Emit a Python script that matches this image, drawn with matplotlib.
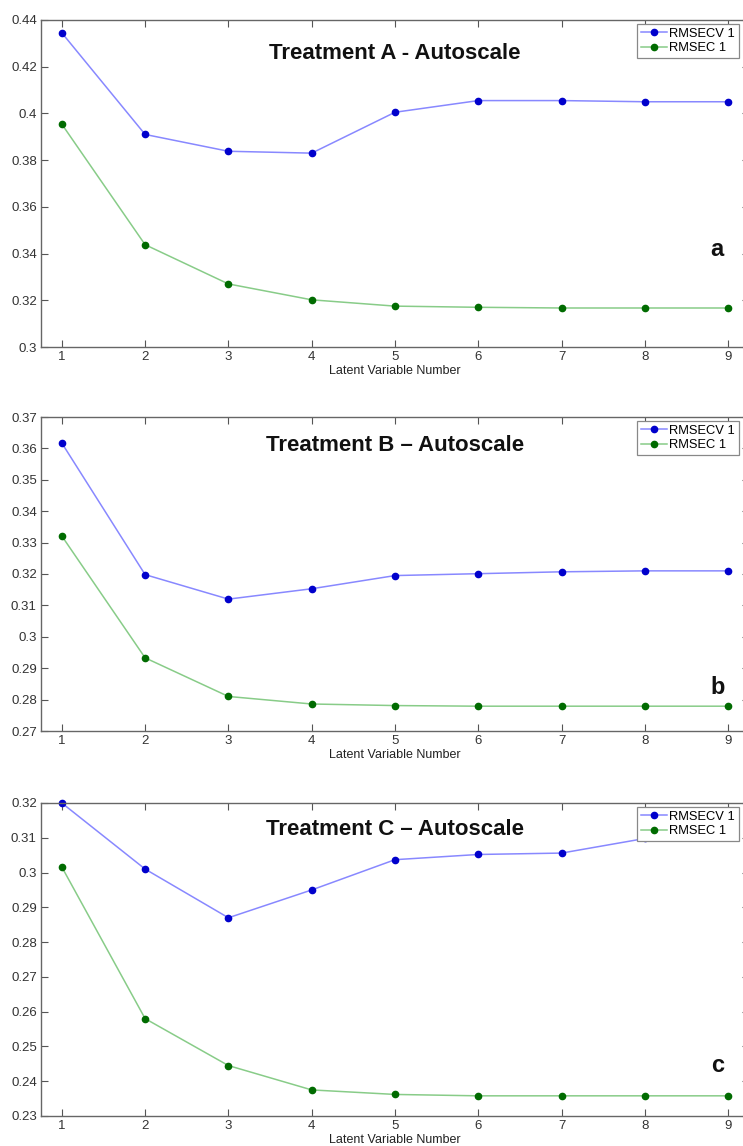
import matplotlib
matplotlib.use("Agg")
import matplotlib.pyplot as plt
from matplotlib.ticker import FixedLocator, FuncFormatter

plt.rcParams['font.family'] = ['Liberation Sans', 'DejaVu Sans']

# latent variable numbers shared by all panels
lv = [1, 2, 3, 4, 5, 6, 7, 8, 9]

# Treatment A
rmsecv_a = [0.4345, 0.391, 0.3838, 0.383, 0.4005, 0.4055, 0.4055, 0.405, 0.405]
rmsec_a = [0.3954, 0.3438, 0.327, 0.3202, 0.3175, 0.317, 0.3167, 0.3167, 0.3167]

# Treatment B
rmsecv_b = [0.3617, 0.3198, 0.312, 0.3153, 0.3195, 0.3201, 0.3207, 0.321, 0.321]
rmsec_b = [0.3321, 0.2933, 0.281, 0.2786, 0.2781, 0.2779, 0.2779, 0.2779, 0.2779]

# Treatment C
rmsecv_c = [0.3200, 0.3010, 0.2870, 0.2950, 0.3037, 0.3052, 0.3056, 0.3098, 0.3110]
rmsec_c = [0.3016, 0.2580, 0.2445, 0.2375, 0.2362, 0.2358, 0.2358, 0.2358, 0.2358]

titles = ["Treatment A - Autoscale", "Treatment B \u2013 Autoscale", "Treatment C \u2013 Autoscale"]
letters = ["a", "b", "c"]
yticks = [
    [0.30, 0.32, 0.34, 0.36, 0.38, 0.40, 0.42, 0.44],
    [0.27, 0.28, 0.29, 0.30, 0.31, 0.32, 0.33, 0.34, 0.35, 0.36, 0.37],
    [0.23, 0.24, 0.25, 0.26, 0.27, 0.28, 0.29, 0.30, 0.31, 0.32],
]
cv_series = [rmsecv_a, rmsecv_b, rmsecv_c]
c_series = [rmsec_a, rmsec_b, rmsec_c]

W, H = 743, 1146
fig = plt.figure(figsize=(W / 100, H / 100), dpi=100)

# pixel boxes of the three axes: (top, bottom)
boxes = [(20, 347), (417, 731), (803, 1116)]
title_y = [0.899, 0.91, 0.914]
letter_y = [0.297, 0.14, 0.16]
left_px, right_px = 41, 749

for i in range(3):
    top, bot = boxes[i]
    ax = fig.add_axes([left_px / W, 1 - bot / H, (right_px - left_px) / W, (bot - top) / H])
    ax.plot(lv, cv_series[i], color='#8888ff', lw=1.1, marker='o', ms=4.5,
            mfc='#0000cc', mec='#0000cc', label='RMSECV 1', clip_on=False)
    ax.plot(lv, c_series[i], color='#88cc88', lw=1.1, marker='o', ms=4.5,
            mfc='#006b00', mec='#006b00', label='RMSEC 1', clip_on=False)
    ax.set_xlim(0.75, 9.25)
    ax.set_ylim(yticks[i][0], yticks[i][-1])
    ax.xaxis.set_major_locator(FixedLocator(lv))
    ax.yaxis.set_major_locator(FixedLocator(yticks[i]))
    ax.yaxis.set_major_formatter(FuncFormatter(lambda v, p: f"{v:g}"))
    ax.tick_params(direction='in', length=5, width=0.8, color='#555555',
                   labelsize=9.5, labelcolor='#333333', top=True, right=True, pad=3)
    for s in ax.spines.values():
        s.set_color('#666666')
        s.set_linewidth(1.0)
    ax.set_xlabel("Latent Variable Number", fontsize=9, color='#222222',
                  family=['Liberation Sans Narrow', 'Liberation Sans'], labelpad=1)
    ax.text(0.5, title_y[i], titles[i], transform=ax.transAxes, ha='center', va='center',
            fontsize=16, fontweight='bold', color='#111111')
    ax.text(8.87, yticks[i][0] + letter_y[i] * (yticks[i][-1] - yticks[i][0]), letters[i],
            ha='center', va='center', fontsize=17, fontweight='bold', color='#111111')
    leg = ax.legend(loc='upper left', bbox_to_anchor=(0.842, 0.988), fontsize=9.3,
                    frameon=True, fancybox=False, framealpha=1, edgecolor='#888888',
                    handlelength=2.0, borderpad=0.3, labelspacing=0.2, handletextpad=0.2,
                    borderaxespad=0)
    leg.get_frame().set_linewidth(0.9)
    leg.set_zorder(10)

fig.savefig("out.png", dpi=100)
